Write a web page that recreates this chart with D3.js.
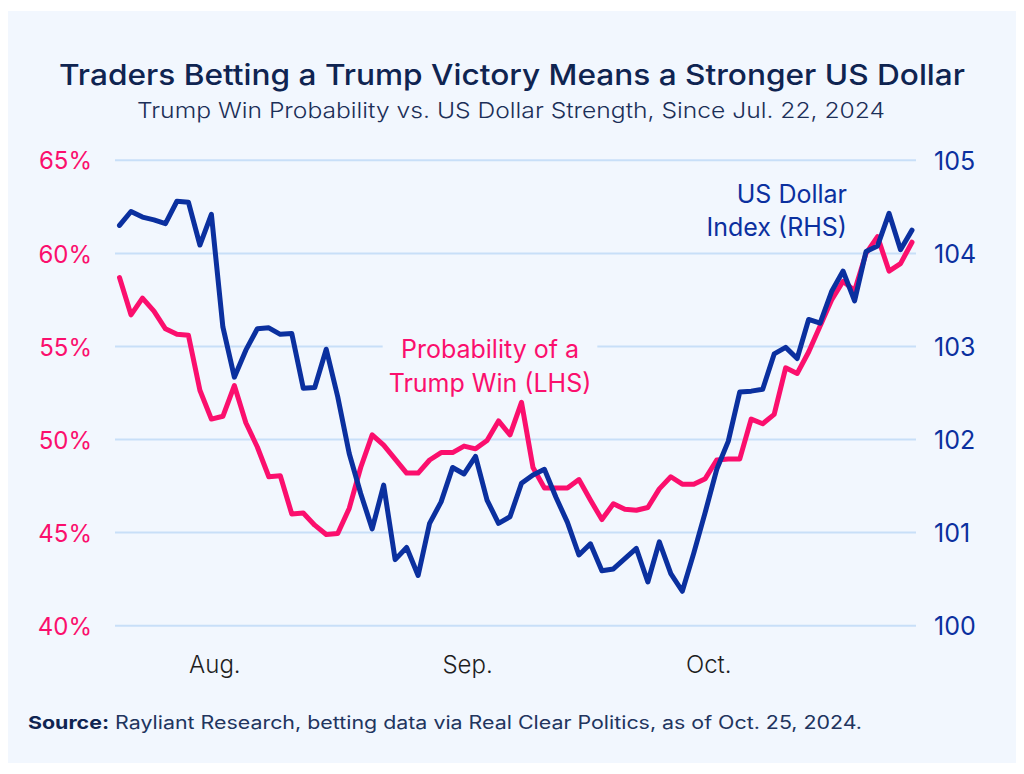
<!DOCTYPE html>
<html>
<head>
<meta charset="utf-8">
<script src="https://cdn.jsdelivr.net/npm/d3@7"></script>
<style>
  html, body { margin: 0; padding: 0; background: #ffffff; }
  svg { display: block; }
</style>
</head>
<body>
<svg id="chart" width="1024" height="774"></svg>
<script>
// ---- Data ----
const dates = [
  "2024-07-22","2024-07-23","2024-07-24","2024-07-25","2024-07-26",
  "2024-07-29","2024-07-30","2024-07-31","2024-08-01","2024-08-02",
  "2024-08-05","2024-08-06","2024-08-07","2024-08-08","2024-08-09",
  "2024-08-12","2024-08-13","2024-08-14","2024-08-15","2024-08-16",
  "2024-08-19","2024-08-20","2024-08-21","2024-08-22","2024-08-23",
  "2024-08-26","2024-08-27","2024-08-28","2024-08-29","2024-08-30",
  "2024-09-02","2024-09-03","2024-09-04","2024-09-05","2024-09-06",
  "2024-09-09","2024-09-10","2024-09-11","2024-09-12","2024-09-13",
  "2024-09-16","2024-09-17","2024-09-18","2024-09-19","2024-09-20",
  "2024-09-23","2024-09-24","2024-09-25","2024-09-26","2024-09-27",
  "2024-09-30","2024-10-01","2024-10-02","2024-10-03","2024-10-04",
  "2024-10-07","2024-10-08","2024-10-09","2024-10-10","2024-10-11",
  "2024-10-14","2024-10-15","2024-10-16","2024-10-17","2024-10-18",
  "2024-10-21","2024-10-22","2024-10-23","2024-10-24","2024-10-25"
];

// Trump win probability (%), left axis
const trumpWinProb = [
  58.7, 56.7, 57.6, 56.9, 55.95, 55.65, 55.6, 52.65, 51.1, 51.25,
  52.9, 50.9, 49.6, 48.0, 48.05, 46.0, 46.05, 45.4, 44.9, 44.95,
  46.3, 48.5, 50.25, 49.7, 48.95, 48.2, 48.2, 48.9, 49.3, 49.3,
  49.65, 49.5, 49.95, 51.0, 50.25, 52.0, 48.5, 47.4, 47.4, 47.4,
  47.85, 46.75, 45.7, 46.55, 46.25, 46.2, 46.35, 47.35, 48.0, 47.6,
  47.6, 47.9, 48.9, 48.95, 48.95, 51.1, 50.85, 51.35, 53.85, 53.55,
  54.7, 56.1, 57.5, 58.5, 58.0, 60.0, 60.9, 59.05, 59.45, 60.6
];

// US Dollar Index, right axis
const dollarIndex = [
  104.3, 104.45, 104.39, 104.36, 104.32, 104.56, 104.55, 104.09, 104.42, 103.21,
  102.67, 102.96, 103.19, 103.2, 103.13, 103.14, 102.55, 102.56, 102.97, 102.46,
  101.85, 101.42, 101.04, 101.51, 100.71, 100.84, 100.54, 101.1, 101.33, 101.7,
  101.63, 101.82, 101.35, 101.1, 101.17, 101.53, 101.62, 101.68, 101.38, 101.11,
  100.76, 100.88, 100.59, 100.61, 100.72, 100.83, 100.47, 100.9, 100.56, 100.37,
  100.78, 101.22, 101.68, 101.98, 102.51, 102.52, 102.54, 102.92, 102.99, 102.87,
  103.29, 103.25, 103.59, 103.81, 103.49, 104.02, 104.08, 104.43, 104.04, 104.25
];

const leftTicks = [40, 45, 50, 55, 60, 65];
const leftTickLabels = ["40%", "45%", "50%", "55%", "60%", "65%"];
const rightTicks = [100, 101, 102, 103, 104, 105];
const rightTickLabels = ["100", "101", "102", "103", "104", "105"];
const xTickDates = ["2024-08-01", "2024-09-02", "2024-10-01"];
const xTickLabels = ["Aug.", "Sep.", "Oct."];

const titleText = "Traders Betting a Trump Victory Means a Stronger US Dollar";
const subtitleText = "Trump Win Probability vs. US Dollar Strength, Since Jul. 22, 2024";
const sourceBold = "Source:";
const sourceText = " Rayliant Research, betting data via Real Clear Politics, as of Oct. 25, 2024.";
const probLabel = ["Probability of a", "Trump Win (LHS)"];
const dxyLabel = ["US Dollar", "Index (RHS)"];

// ---- Styles ----
const PINK = "#fb0f6d";
const NAVY = "#0b309f";
const TITLE_C = "#0f2451";
const PANEL = "#f2f7fe";
const GRID = "#c8dff8";
const FONT = "Inter, 'Noto Sans', sans-serif";

const svg = d3.select("#chart");

svg.append("rect")
  .attr("x", 8).attr("y", 11).attr("width", 1008).attr("height", 752)
  .attr("fill", PANEL);

// Scales
const x = d3.scalePoint().domain(dates).range([119.5, 912]);
const yL = d3.scaleLinear().domain([40, 65]).range([625.7, 160.3]);
const yR = d3.scaleLinear().domain([100, 105]).range([625.7, 160.3]);

// Gridlines
svg.append("g").selectAll("line")
  .data(leftTicks).join("line")
  .attr("x1", 115).attr("x2", 916)
  .attr("y1", d => yL(d)).attr("y2", d => yL(d))
  .attr("stroke", GRID).attr("stroke-width", 2);

// Left axis
const leftAxis = d3.axisLeft(yL).tickValues(leftTicks)
  .tickFormat((d, i) => leftTickLabels[i]).tickSize(0).tickPadding(0);
const gL = svg.append("g").attr("transform", "translate(92,0)").call(leftAxis);
gL.select(".domain").remove();
gL.selectAll("text").attr("fill", PINK).style("font-family", FONT)
  .style("font-size", "24px").attr("dy", "0.36em");

// Right axis
const rightAxis = d3.axisRight(yR).tickValues(rightTicks)
  .tickFormat((d, i) => rightTickLabels[i]).tickSize(0).tickPadding(0);
const gR = svg.append("g").attr("transform", "translate(934,0)").call(rightAxis);
gR.select(".domain").remove();
gR.selectAll("text").attr("fill", NAVY).style("font-family", FONT)
  .style("font-size", "25px").attr("dy", "0.36em");

// Bottom axis
const xAxis = d3.axisBottom(x).tickValues(xTickDates)
  .tickFormat(d => xTickLabels[xTickDates.indexOf(d)]).tickSize(0).tickPadding(0);
const gX = svg.append("g").attr("transform", "translate(3,673)").call(xAxis);
gX.select(".domain").remove();
gX.selectAll("text").attr("fill", "#1e1e1e").attr("dy", 0)
  .style("font-family", FONT).style("font-size", "24px").style("font-weight", 300);

// Lines
const lineL = d3.line().x((d, i) => x(dates[i])).y(d => yL(d));
const lineR = d3.line().x((d, i) => x(dates[i])).y(d => yR(d));

svg.append("path").datum(trumpWinProb)
  .attr("d", lineL).attr("fill", "none")
  .attr("stroke", PINK).attr("stroke-width", 5)
  .attr("stroke-linejoin", "round").attr("stroke-linecap", "round");

svg.append("path").datum(dollarIndex)
  .attr("d", lineR).attr("fill", "none")
  .attr("stroke", NAVY).attr("stroke-width", 5)
  .attr("stroke-linejoin", "round").attr("stroke-linecap", "round");

// Pink annotation with background knocking out the gridline
const probG = svg.append("g");
const probBg = probG.append("rect").attr("fill", PANEL);
const probT = probG.append("text")
  .attr("text-anchor", "middle").attr("fill", PINK)
  .style("font-family", FONT).style("font-size", "25px");
probT.selectAll("tspan").data(probLabel).join("tspan")
  .attr("x", 490).attr("y", (d, i) => 358 + i * 34).text(d => d);
const pb = probT.node().getBBox();
probBg.attr("x", pb.x - 6).attr("y", pb.y).attr("width", pb.width + 12).attr("height", pb.height);

// Navy annotation
const dxyT = svg.append("text")
  .attr("text-anchor", "end").attr("fill", NAVY)
  .style("font-family", FONT).style("font-size", "25px");
dxyT.selectAll("tspan").data(dxyLabel).join("tspan")
  .attr("x", 847).attr("y", (d, i) => 203 + i * 33).text(d => d);

// Titles
svg.append("text").attr("x", 512).attr("y", 85)
  .attr("text-anchor", "middle").attr("fill", TITLE_C)
  .style("font-family", FONT).style("font-size", "29px").style("font-weight", 500)
  .attr("textLength", 906).attr("lengthAdjust", "spacingAndGlyphs")
  .text(titleText);

svg.append("text").attr("x", 511).attr("y", 118)
  .attr("text-anchor", "middle").attr("fill", "#1c2f58")
  .style("font-family", FONT).style("font-size", "22px").style("font-weight", 300)
  .attr("textLength", 748).attr("lengthAdjust", "spacingAndGlyphs")
  .text(subtitleText);

// Source
const src = svg.append("text").attr("x", 28).attr("y", 729)
  .attr("fill", TITLE_C).style("font-family", FONT).style("font-size", "18px")
  .attr("textLength", 834).attr("lengthAdjust", "spacingAndGlyphs");
src.append("tspan").style("font-weight", 700).text(sourceBold);
src.append("tspan").style("font-weight", 400).attr("fill", "#22355e").text(sourceText);
</script>
</body>
</html>
